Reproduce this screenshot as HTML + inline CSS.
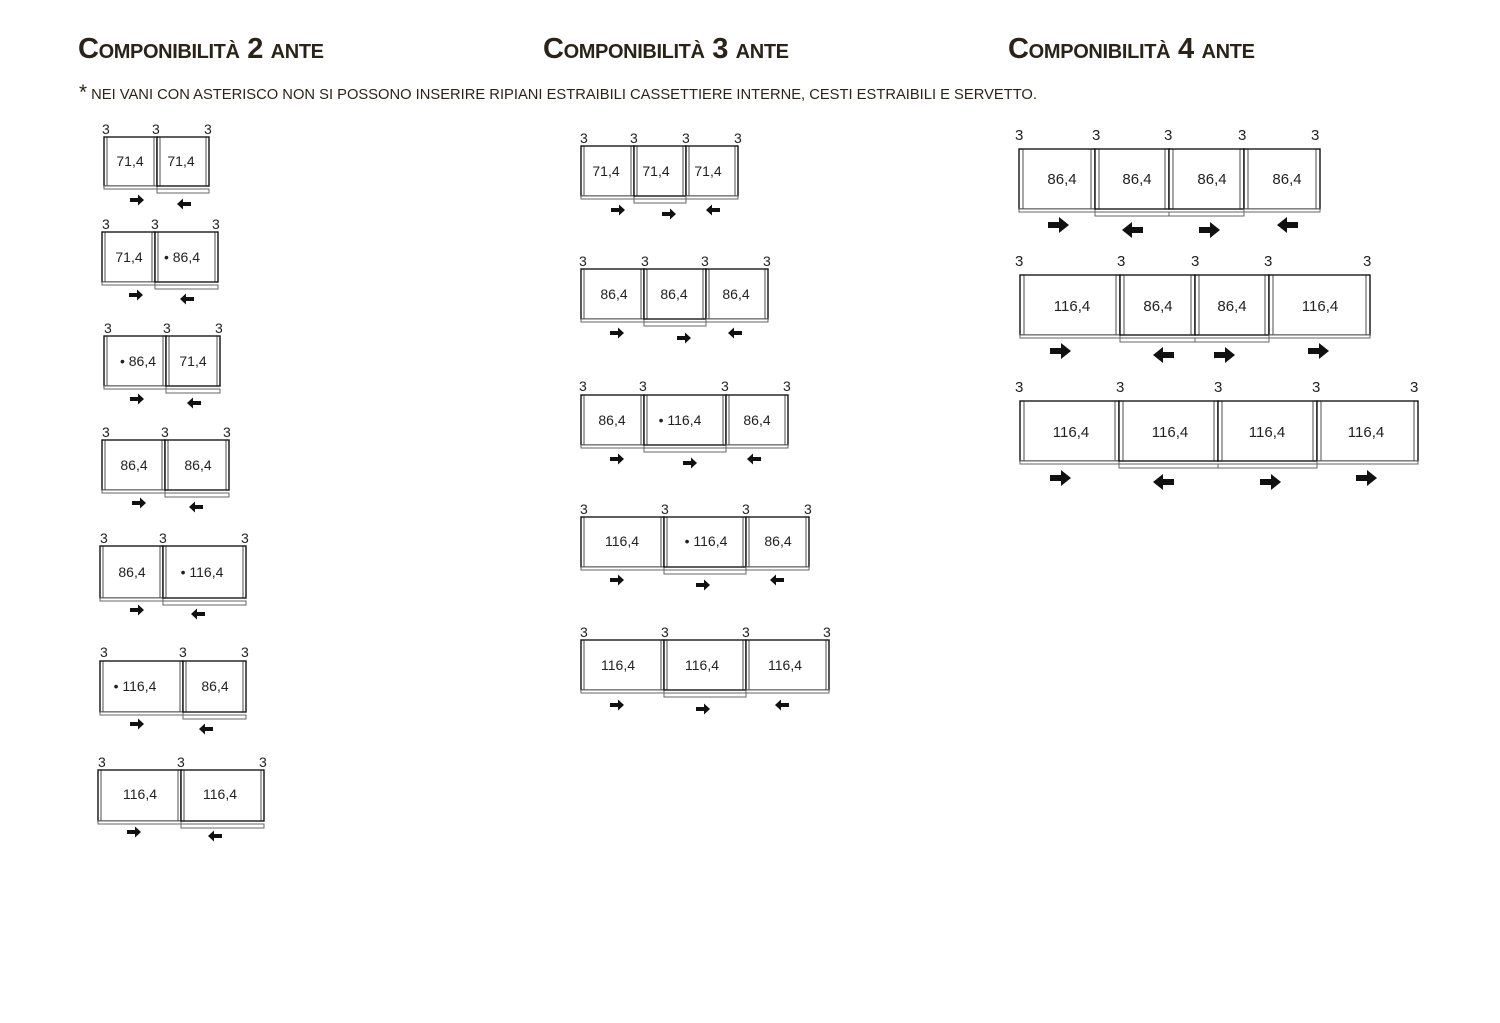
<!DOCTYPE html>
<html><head><meta charset="utf-8"><style>
html,body{margin:0;padding:0;background:#fff;}
svg{display:block;}
.d{fill:#fff;stroke:#111;stroke-width:1.4}
.i{fill:none;stroke:#222;stroke-width:0.8}
.r{fill:#fff;stroke:#666;stroke-width:1}
text{font-family:"Liberation Sans",sans-serif;fill:#222}
.n{font-size:14px}
.v{font-size:14px;text-anchor:middle}
.b{font-size:15px}
.bv{font-size:15px;text-anchor:middle}
.t{font-size:29px;font-weight:bold;font-variant:small-caps;fill:#2a2418}
.note{font-size:15px;fill:#2a2418}
</style></head><body>
<svg width="1500" height="1023" viewBox="0 0 1500 1023" xmlns="http://www.w3.org/2000/svg">
<defs>
<path id="ar" d="M-7-2h8v-3.5l6 5.5-6 5.5v-3.5h-8z" fill="#111"/>
<path id="al" d="M7-2h-8v-3.5l-6 5.5 6 5.5v-3.5h8z" fill="#111"/>
<path id="br" d="M-11-3h11v-5l10 8-10 8v-5h-11z" fill="#111"/>
<path id="bl" d="M11-3h-11v-5l-10 8 10 8v-5h11z" fill="#111"/>
</defs>

<text class="t" x="78" y="58" textLength="246" lengthAdjust="spacing">Componibilità 2 ante</text>
<text class="t" x="543" y="58" textLength="246" lengthAdjust="spacing">Componibilità 3 ante</text>
<text class="t" x="1008" y="58" textLength="247" lengthAdjust="spacing">Componibilità 4 ante</text>
<text class="note" x="79" y="99" textLength="958" lengthAdjust="spacingAndGlyphs"><tspan font-size="21">*</tspan>  NEI VANI CON ASTERISCO NON SI POSSONO INSERIRE RIPIANI ESTRAIBILI CASSETTIERE INTERNE, CESTI ESTRAIBILI E SERVETTO.</text>

<!-- ===== 2 ANTE ===== -->
<g>
<text class="n" x="102" y="134">3</text><text class="n" x="152" y="134">3</text><text class="n" x="204" y="134">3</text>
<rect class="d" x="104" y="137" width="53" height="49"/><rect class="i" x="107" y="137" width="47" height="49"/><rect class="r" x="104" y="186" width="53" height="3"/>
<rect class="d" x="157" y="137" width="52" height="49"/><rect class="i" x="160" y="137" width="46" height="49"/><rect class="r" x="157" y="189" width="52" height="4"/>
<text class="v" x="130" y="166">71,4</text><text class="v" x="181" y="166">71,4</text>
<use href="#ar" x="137" y="200"/><use href="#al" x="184" y="204"/>
</g>
<g>
<text class="n" x="102" y="229">3</text><text class="n" x="151" y="229">3</text><text class="n" x="212" y="229">3</text>
<rect class="d" x="102" y="232" width="53" height="50"/><rect class="i" x="105" y="232" width="47" height="50"/><rect class="r" x="102" y="282" width="53" height="3"/>
<rect class="d" x="155" y="232" width="63" height="50"/><rect class="i" x="158" y="232" width="57" height="50"/><rect class="r" x="155" y="285" width="63" height="4"/>
<text class="v" x="129" y="262">71,4</text><text class="v" x="182" y="262">• 86,4</text>
<use href="#ar" x="136" y="295"/><use href="#al" x="187" y="299"/>
</g>
<g>
<text class="n" x="104" y="333">3</text><text class="n" x="163" y="333">3</text><text class="n" x="215" y="333">3</text>
<rect class="d" x="104" y="336" width="62" height="50"/><rect class="i" x="107" y="336" width="56" height="50"/><rect class="r" x="104" y="386" width="62" height="3"/>
<rect class="d" x="166" y="336" width="54" height="50"/><rect class="i" x="169" y="336" width="48" height="50"/><rect class="r" x="166" y="389" width="54" height="4"/>
<text class="v" x="138" y="366">• 86,4</text><text class="v" x="193" y="366">71,4</text>
<use href="#ar" x="137" y="399"/><use href="#al" x="194" y="403"/>
</g>
<g>
<text class="n" x="102" y="437">3</text><text class="n" x="161" y="437">3</text><text class="n" x="223" y="437">3</text>
<rect class="d" x="102" y="440" width="63" height="50"/><rect class="i" x="105" y="440" width="57" height="50"/><rect class="r" x="102" y="490" width="63" height="3"/>
<rect class="d" x="165" y="440" width="64" height="50"/><rect class="i" x="168" y="440" width="58" height="50"/><rect class="r" x="165" y="493" width="64" height="4"/>
<text class="v" x="134" y="470">86,4</text><text class="v" x="198" y="470">86,4</text>
<use href="#ar" x="139" y="503"/><use href="#al" x="196" y="507"/>
</g>
<g>
<text class="n" x="100" y="543">3</text><text class="n" x="159" y="543">3</text><text class="n" x="241" y="543">3</text>
<rect class="d" x="100" y="546" width="63" height="52"/><rect class="i" x="103" y="546" width="57" height="52"/><rect class="r" x="100" y="598" width="63" height="3"/>
<rect class="d" x="163" y="546" width="83" height="52"/><rect class="i" x="166" y="546" width="77" height="52"/><rect class="r" x="163" y="601" width="83" height="4"/>
<text class="v" x="132" y="577">86,4</text><text class="v" x="202" y="577">• 116,4</text>
<use href="#ar" x="137" y="610"/><use href="#al" x="198" y="614"/>
</g>
<g>
<text class="n" x="100" y="657">3</text><text class="n" x="179" y="657">3</text><text class="n" x="241" y="657">3</text>
<rect class="d" x="100" y="661" width="83" height="51"/><rect class="i" x="103" y="661" width="77" height="51"/><rect class="r" x="100" y="712" width="83" height="3"/>
<rect class="d" x="183" y="661" width="63" height="51"/><rect class="i" x="186" y="661" width="57" height="51"/><rect class="r" x="183" y="715" width="63" height="4"/>
<text class="v" x="135" y="691">• 116,4</text><text class="v" x="215" y="691">86,4</text>
<use href="#ar" x="137" y="724"/><use href="#al" x="206" y="729"/>
</g>
<g>
<text class="n" x="98" y="767">3</text><text class="n" x="177" y="767">3</text><text class="n" x="259" y="767">3</text>
<rect class="d" x="98" y="770" width="83" height="51"/><rect class="i" x="101" y="770" width="77" height="51"/><rect class="r" x="98" y="821" width="83" height="3"/>
<rect class="d" x="181" y="770" width="83" height="51"/><rect class="i" x="184" y="770" width="77" height="51"/><rect class="r" x="181" y="824" width="83" height="4"/>
<text class="v" x="140" y="799">116,4</text><text class="v" x="220" y="799">116,4</text>
<use href="#ar" x="134" y="832"/><use href="#al" x="215" y="836"/>
</g>

<!-- ===== 3 ANTE ===== -->
<g>
<text class="n" x="580" y="143">3</text><text class="n" x="630" y="143">3</text><text class="n" x="682" y="143">3</text><text class="n" x="734" y="143">3</text>
<rect class="d" x="581" y="146" width="53" height="50"/><rect class="i" x="584" y="146" width="47" height="50"/><rect class="r" x="581" y="196" width="53" height="3"/>
<rect class="d" x="634" y="146" width="52" height="50"/><rect class="i" x="637" y="146" width="46" height="50"/><rect class="r" x="634" y="199" width="52" height="4"/>
<rect class="d" x="686" y="146" width="52" height="50"/><rect class="i" x="689" y="146" width="46" height="50"/><rect class="r" x="686" y="196" width="52" height="3"/>
<text class="v" x="606" y="176">71,4</text><text class="v" x="656" y="176">71,4</text><text class="v" x="708" y="176">71,4</text>
<use href="#ar" x="618" y="210"/><use href="#ar" x="669" y="214"/><use href="#al" x="713" y="210"/>
</g>
<g>
<text class="n" x="579" y="266">3</text><text class="n" x="641" y="266">3</text><text class="n" x="701" y="266">3</text><text class="n" x="763" y="266">3</text>
<rect class="d" x="581" y="269" width="63" height="50"/><rect class="i" x="584" y="269" width="57" height="50"/><rect class="r" x="581" y="319" width="63" height="3"/>
<rect class="d" x="644" y="269" width="62" height="50"/><rect class="i" x="647" y="269" width="56" height="50"/><rect class="r" x="644" y="322" width="62" height="4"/>
<rect class="d" x="706" y="269" width="62" height="50"/><rect class="i" x="709" y="269" width="56" height="50"/><rect class="r" x="706" y="319" width="62" height="3"/>
<text class="v" x="614" y="299">86,4</text><text class="v" x="674" y="299">86,4</text><text class="v" x="736" y="299">86,4</text>
<use href="#ar" x="617" y="333"/><use href="#ar" x="684" y="338"/><use href="#al" x="735" y="333"/>
</g>
<g>
<text class="n" x="579" y="391">3</text><text class="n" x="639" y="391">3</text><text class="n" x="721" y="391">3</text><text class="n" x="783" y="391">3</text>
<rect class="d" x="581" y="395" width="63" height="50"/><rect class="i" x="584" y="395" width="57" height="50"/><rect class="r" x="581" y="445" width="63" height="3"/>
<rect class="d" x="644" y="395" width="82" height="50"/><rect class="i" x="647" y="395" width="76" height="50"/><rect class="r" x="644" y="448" width="82" height="4"/>
<rect class="d" x="726" y="395" width="62" height="50"/><rect class="i" x="729" y="395" width="56" height="50"/><rect class="r" x="726" y="445" width="62" height="3"/>
<text class="v" x="612" y="425">86,4</text><text class="v" x="680" y="425">• 116,4</text><text class="v" x="757" y="425">86,4</text>
<use href="#ar" x="617" y="459"/><use href="#ar" x="690" y="463"/><use href="#al" x="754" y="459"/>
</g>
<g>
<text class="n" x="580" y="514">3</text><text class="n" x="661" y="514">3</text><text class="n" x="742" y="514">3</text><text class="n" x="804" y="514">3</text>
<rect class="d" x="581" y="517" width="83" height="50"/><rect class="i" x="584" y="517" width="77" height="50"/><rect class="r" x="581" y="567" width="83" height="3"/>
<rect class="d" x="664" y="517" width="82" height="50"/><rect class="i" x="667" y="517" width="76" height="50"/><rect class="r" x="664" y="570" width="82" height="4"/>
<rect class="d" x="746" y="517" width="63" height="50"/><rect class="i" x="749" y="517" width="57" height="50"/><rect class="r" x="746" y="567" width="63" height="3"/>
<text class="v" x="622" y="546">116,4</text><text class="v" x="706" y="546">• 116,4</text><text class="v" x="778" y="546">86,4</text>
<use href="#ar" x="617" y="580"/><use href="#ar" x="703" y="585"/><use href="#al" x="777" y="580"/>
</g>
<g>
<text class="n" x="580" y="637">3</text><text class="n" x="661" y="637">3</text><text class="n" x="742" y="637">3</text><text class="n" x="823" y="637">3</text>
<rect class="d" x="581" y="640" width="83" height="50"/><rect class="i" x="584" y="640" width="77" height="50"/><rect class="r" x="581" y="690" width="83" height="3"/>
<rect class="d" x="664" y="640" width="82" height="50"/><rect class="i" x="667" y="640" width="76" height="50"/><rect class="r" x="664" y="693" width="82" height="4"/>
<rect class="d" x="746" y="640" width="83" height="50"/><rect class="i" x="749" y="640" width="77" height="50"/><rect class="r" x="746" y="690" width="83" height="3"/>
<text class="v" x="618" y="670">116,4</text><text class="v" x="702" y="670">116,4</text><text class="v" x="785" y="670">116,4</text>
<use href="#ar" x="617" y="705"/><use href="#ar" x="703" y="709"/><use href="#al" x="782" y="705"/>
</g>

<!-- ===== 4 ANTE ===== -->
<g>
<text class="b" x="1015" y="140">3</text><text class="b" x="1092" y="140">3</text><text class="b" x="1164" y="140">3</text><text class="b" x="1238" y="140">3</text><text class="b" x="1311" y="140">3</text>
<rect class="d" x="1019" y="149" width="76" height="60"/><rect class="i" x="1023" y="149" width="68" height="60"/><rect class="r" x="1019" y="209" width="76" height="3"/>
<rect class="d" x="1095" y="149" width="74" height="60"/><rect class="i" x="1099" y="149" width="66" height="60"/><rect class="r" x="1095" y="212" width="74" height="4"/>
<rect class="d" x="1169" y="149" width="75" height="60"/><rect class="i" x="1173" y="149" width="67" height="60"/><rect class="r" x="1169" y="212" width="75" height="4"/>
<rect class="d" x="1244" y="149" width="76" height="60"/><rect class="i" x="1248" y="149" width="68" height="60"/><rect class="r" x="1244" y="209" width="76" height="3"/>
<text class="bv" x="1062" y="184">86,4</text><text class="bv" x="1137" y="184">86,4</text><text class="bv" x="1212" y="184">86,4</text><text class="bv" x="1287" y="184">86,4</text>
<use href="#br" x="1059" y="225"/><use href="#bl" x="1132" y="230"/><use href="#br" x="1210" y="230"/><use href="#bl" x="1287" y="225"/>
</g>
<g>
<text class="b" x="1015" y="266">3</text><text class="b" x="1117" y="266">3</text><text class="b" x="1191" y="266">3</text><text class="b" x="1264" y="266">3</text><text class="b" x="1363" y="266">3</text>
<rect class="d" x="1020" y="275" width="100" height="60"/><rect class="i" x="1024" y="275" width="92" height="60"/><rect class="r" x="1020" y="335" width="100" height="3"/>
<rect class="d" x="1120" y="275" width="75" height="60"/><rect class="i" x="1124" y="275" width="67" height="60"/><rect class="r" x="1120" y="338" width="75" height="4"/>
<rect class="d" x="1195" y="275" width="74" height="60"/><rect class="i" x="1199" y="275" width="66" height="60"/><rect class="r" x="1195" y="338" width="74" height="4"/>
<rect class="d" x="1269" y="275" width="101" height="60"/><rect class="i" x="1273" y="275" width="93" height="60"/><rect class="r" x="1269" y="335" width="101" height="3"/>
<text class="bv" x="1072" y="311">116,4</text><text class="bv" x="1158" y="311">86,4</text><text class="bv" x="1232" y="311">86,4</text><text class="bv" x="1320" y="311">116,4</text>
<use href="#br" x="1061" y="351"/><use href="#bl" x="1163" y="355"/><use href="#br" x="1225" y="355"/><use href="#br" x="1319" y="351"/>
</g>
<g>
<text class="b" x="1015" y="392">3</text><text class="b" x="1116" y="392">3</text><text class="b" x="1214" y="392">3</text><text class="b" x="1312" y="392">3</text><text class="b" x="1410" y="392">3</text>
<rect class="d" x="1020" y="401" width="99" height="60"/><rect class="i" x="1024" y="401" width="91" height="60"/><rect class="r" x="1020" y="461" width="99" height="3"/>
<rect class="d" x="1119" y="401" width="99" height="60"/><rect class="i" x="1123" y="401" width="91" height="60"/><rect class="r" x="1119" y="464" width="99" height="4"/>
<rect class="d" x="1218" y="401" width="99" height="60"/><rect class="i" x="1222" y="401" width="91" height="60"/><rect class="r" x="1218" y="464" width="99" height="4"/>
<rect class="d" x="1317" y="401" width="101" height="60"/><rect class="i" x="1321" y="401" width="93" height="60"/><rect class="r" x="1317" y="461" width="101" height="3"/>
<text class="bv" x="1071" y="437">116,4</text><text class="bv" x="1170" y="437">116,4</text><text class="bv" x="1267" y="437">116,4</text><text class="bv" x="1366" y="437">116,4</text>
<use href="#br" x="1061" y="478"/><use href="#bl" x="1163" y="482"/><use href="#br" x="1271" y="482"/><use href="#br" x="1367" y="478"/>
</g>
</svg>
</body></html>
